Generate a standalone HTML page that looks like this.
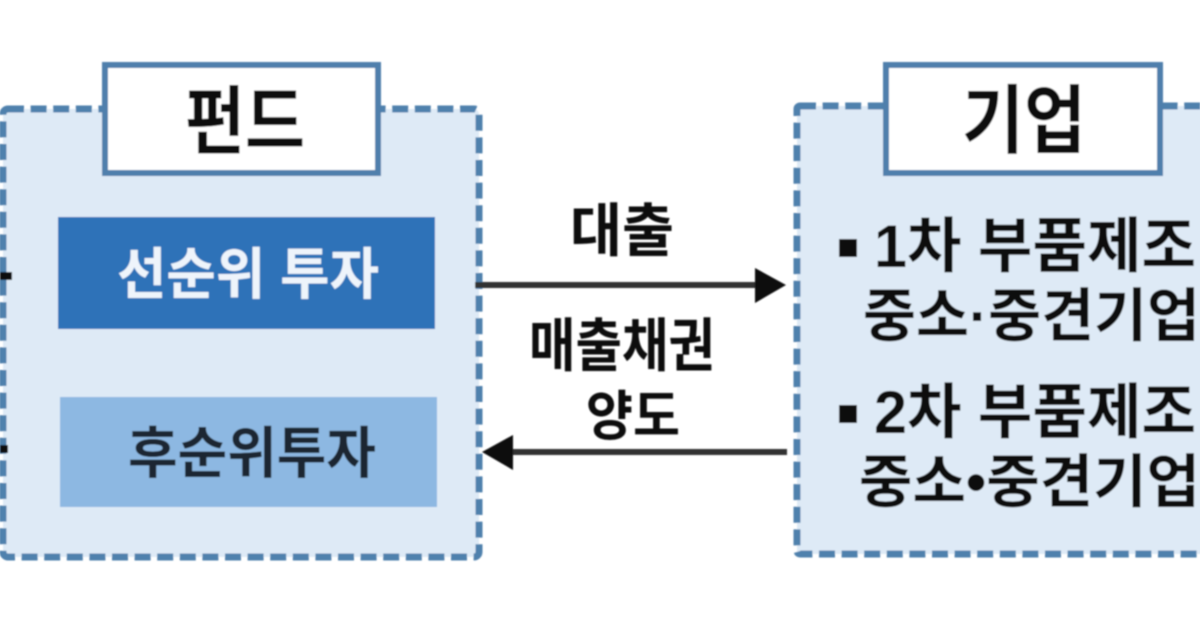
<!DOCTYPE html>
<html lang="ko">
<head>
<meta charset="utf-8">
<style>
html,body{margin:0;padding:0;background:#fff}
body{width:1200px;height:630px;overflow:hidden;position:relative}
svg{position:absolute;left:0;top:0}
text{font-family:"Liberation Sans","Noto Sans CJK KR",sans-serif;font-weight:700;fill:#111}
</style>
</head>
<body>
<svg width="1200" height="630" viewBox="0 0 1200 630" xmlns="http://www.w3.org/2000/svg">
<defs><filter id="b" x="-5%" y="-5%" width="110%" height="110%"><feGaussianBlur stdDeviation="0.9"/></filter></defs>
<rect width="1200" height="630" fill="#fff"/>
<g filter="url(#b)">
  <rect x="3" y="109" width="476" height="448" rx="5" fill="#deeaf6" stroke="#4f81ad" stroke-width="7" stroke-dasharray="16 6.6"/>
  <rect x="797" y="106" width="442" height="448" rx="3" fill="#deeaf6" stroke="#4f81ad" stroke-width="7" stroke-dasharray="16 6.6"/>
  <rect x="105" y="65" width="273" height="108" fill="#fff" stroke="#4f7fac" stroke-width="6"/>
  <rect x="886" y="65" width="274" height="108" fill="#fff" stroke="#4f7fac" stroke-width="6"/>
  <rect x="58" y="217" width="377" height="112" fill="#2e72b8"/>
  <rect x="60" y="397" width="377" height="110" fill="#8db8e2"/>
  <line x1="475" y1="285" x2="760" y2="285" stroke="#333" stroke-width="6"/>
  <polygon points="755,268 786,285 755,303" fill="#111"/>
  <line x1="787" y1="452" x2="508" y2="452" stroke="#333" stroke-width="6"/>
  <polygon points="513,435 482,452 513,470" fill="#111"/>
  <line x1="0" y1="276" x2="12" y2="276" stroke="#111" stroke-width="8"/>
  <line x1="0" y1="449" x2="8" y2="449" stroke="#111" stroke-width="8"/>

  <text x="245" y="148" font-size="75" text-anchor="middle" textLength="120" lengthAdjust="spacingAndGlyphs">펀드</text>
  <text x="1024" y="147" font-size="75" text-anchor="middle" textLength="124" lengthAdjust="spacingAndGlyphs">기업</text>

  <text x="248" y="294" font-size="56" text-anchor="middle" textLength="262" lengthAdjust="spacingAndGlyphs" style="fill:#eef4fb">선순위 투자</text>
  <text x="252" y="473" font-size="56" text-anchor="middle" textLength="248" lengthAdjust="spacingAndGlyphs" style="fill:#1c2630">후순위투자</text>

  <text x="622" y="251" font-size="58" text-anchor="middle" textLength="104" lengthAdjust="spacingAndGlyphs">대출</text>
  <text x="622" y="366" font-size="58" text-anchor="middle" textLength="186" lengthAdjust="spacingAndGlyphs">매출채권</text>
  <text x="633" y="435" font-size="54" text-anchor="middle" textLength="94" lengthAdjust="spacingAndGlyphs">양도</text>

  <rect x="839" y="239" width="18" height="18" fill="#111"/>
  <text x="874" y="267" font-size="60" textLength="322" lengthAdjust="spacingAndGlyphs">1차 부품제조</text>
  <text x="863" y="336" font-size="58" textLength="337" lengthAdjust="spacingAndGlyphs">중소·중견기업</text>
  <rect x="839" y="405" width="18" height="18" fill="#111"/>
  <text x="874" y="433" font-size="60" textLength="322" lengthAdjust="spacingAndGlyphs">2차 부품제조</text>
  <text x="859" y="502" font-size="58" textLength="341" lengthAdjust="spacingAndGlyphs">중소•중견기업</text>
</g>
</svg>
</body>
</html>
